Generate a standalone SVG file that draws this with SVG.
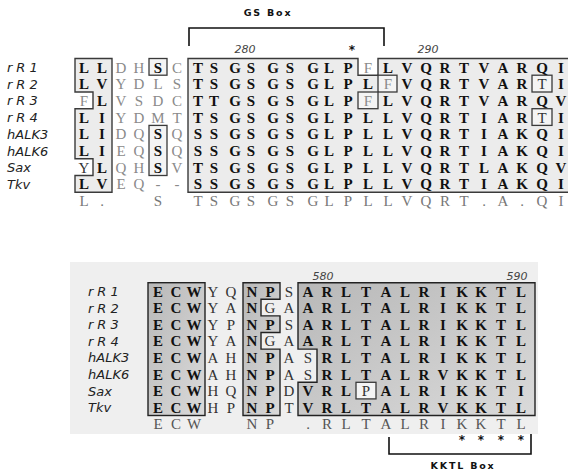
<svg xmlns="http://www.w3.org/2000/svg" width="568" height="472" viewBox="0 0 568 472">
<style>
text{font-family:"Liberation Serif","Times New Roman",serif;font-size:15px;text-anchor:middle}
.b{font-weight:bold;fill:#111}
.l{fill:#8a8a8a}
.m{fill:#333}
.c{fill:#777}
.c2{fill:#555}
.lab{font-family:"DejaVu Sans","Liberation Sans",sans-serif;font-style:italic;font-size:13px;text-anchor:start;fill:#222}
.ls{letter-spacing:4px}
.num{font-family:"DejaVu Sans","Liberation Sans",sans-serif;font-style:italic;font-size:11px;fill:#444}
.ttl{font-family:"DejaVu Sans","Liberation Sans",sans-serif;font-weight:bold;font-size:9.5px;letter-spacing:1.8px;fill:#111}
.star{font-family:"DejaVu Sans","Liberation Sans",sans-serif;font-weight:bold;font-size:12px;fill:#111}
.box{stroke:#3a3a3a;stroke-width:1.4;fill:#ececec}
.sbox{stroke:#3a3a3a;stroke-width:1.3;fill:#f4f4f4}
.dbox{stroke:#222;stroke-width:1.4;fill:url(#g)}
.brk{stroke:#111;stroke-width:1.6;fill:none}
</style>
<defs>
<linearGradient id="g" x1="0" y1="0" x2="1" y2="1">
<stop offset="0" stop-color="#b8b8b8"/>
<stop offset="1" stop-color="#dadada"/>
</linearGradient>
</defs>
<rect width="568" height="472" fill="#fff"/>

<g id="connectors">
<path class="brk" d="M189,46 V28 H384 V46"/>
<path class="brk" d="M389,437 V454 H531 V432"/>
</g>

<g id="gs-box-title">
<text class="ttl" x="268" y="16">GS Box</text>
</g>
<g id="kktl-box-title">
<text class="ttl" x="463" y="469">KKTL Box</text>
</g>

<g id="top-panel">
<path class="box" d="M75,58.5 H112 V192.2 H75 V175.5 H93 V158.8 H75 V108.7 H93 V92 H75 Z"/>
<rect class="sbox" x="149" y="58.5" width="18" height="16.7"/>
<rect class="sbox" x="149" y="125.4" width="18" height="50.1"/>
<path class="box" d="M188,58.5 H358 V75.2 H378 V58.5 H570 V192.2 H188 Z"/>
<rect class="sbox" x="378" y="75.2" width="19" height="16.8" fill="#fafafa"/>
<rect class="sbox" x="358" y="92" width="20" height="16.7" fill="#fafafa"/>
<rect class="sbox" x="532" y="75.2" width="20" height="16.8" fill="#fafafa"/>
<rect class="sbox" x="532" y="108.7" width="20" height="16.7" fill="#fafafa"/>
<text class="num" x="245" y="53">280</text>
<text class="num" x="428" y="53">290</text>
<text class="star" x="352" y="54">*</text>
</g>

<g id="top-labels">
<text class="lab ls" x="7" y="72">rR1</text>
<text class="lab ls" x="7" y="88.7">rR2</text>
<text class="lab ls" x="7" y="105.4">rR3</text>
<text class="lab ls" x="7" y="122.1">rR4</text>
<text class="lab" x="7" y="138.8">hALK3</text>
<text class="lab" x="7" y="155.5">hALK6</text>
<text class="lab" x="7" y="172.2">Sax</text>
<text class="lab" x="7" y="188.9">Tkv</text>
</g>

<g id="top-rows">
<text y="72.5"><tspan class="b" x="84 102">LL</tspan><tspan class="l" x="121 139">DH</tspan><tspan class="b" x="158">S</tspan><tspan class="l" x="177">C</tspan><tspan class="b" x="198 214 235 251 273 290 313 329 348">TSGSGSGLP</tspan><tspan class="l" x="368">F</tspan><tspan class="b" x="388 407 426 445 464 484 503 522 542 561">LVQRTVARQI</tspan></text>
<text y="89.2"><tspan class="b" x="84 102">LV</tspan><tspan class="l" x="121 139 158 177">YDLS</tspan><tspan class="b" x="198 214 235 251 273 290 313 329 348 368">TSGSGSGLPL</tspan><tspan class="l" x="388">F</tspan><tspan class="b" x="407 426 445 464 484 503 522">VQRTVAR</tspan><tspan class="m" x="542">T</tspan><tspan class="b" x="561">I</tspan></text>
<text y="105.9"><tspan class="l" x="84">F</tspan><tspan class="b" x="102">L</tspan><tspan class="l" x="121 139 158 177">VSDC</tspan><tspan class="b" x="198 214 235 251 273 290 313 329 348">TTGSGSGLP</tspan><tspan class="l" x="368">F</tspan><tspan class="b" x="388 407 426 445 464 484 503 522 542 561">LVQRTVARQV</tspan></text>
<text y="122.6"><tspan class="b" x="84 102">LI</tspan><tspan class="l" x="121 139 158 177">YDMT</tspan><tspan class="b" x="198 214 235 251 273 290 313 329 348 368 388 407 426 445 464 484 503 522">TSGSGSGLPLLVQRTIAR</tspan><tspan class="m" x="542">T</tspan><tspan class="b" x="561">I</tspan></text>
<text y="139.3"><tspan class="b" x="84 102">LI</tspan><tspan class="l" x="121 139">DQ</tspan><tspan class="b" x="158">S</tspan><tspan class="l" x="177">Q</tspan><tspan class="b" x="198 214 235 251 273 290 313 329 348 368 388 407 426 445 464 484 503 522 542 561">SSGSGSGLPLLVQRTIAKQI</tspan></text>
<text y="156"><tspan class="b" x="84 102">LI</tspan><tspan class="l" x="121 139">EQ</tspan><tspan class="b" x="158">S</tspan><tspan class="l" x="177">Q</tspan><tspan class="b" x="198 214 235 251 273 290 313 329 348 368 388 407 426 445 464 484 503 522 542 561">SSGSGSGLPLLVQRTIAKQI</tspan></text>
<text y="172.7"><tspan class="m" x="84">Y</tspan><tspan class="b" x="102">L</tspan><tspan class="l" x="121 139">QH</tspan><tspan class="b" x="158">S</tspan><tspan class="l" x="177">V</tspan><tspan class="b" x="198 214 235 251 273 290 313 329 348 368 388 407 426 445 464 484 503 522 542 561">TSGSGSGLPLLVQRTLAKQV</tspan></text>
<text y="189.4"><tspan class="b" x="84 102">LV</tspan><tspan class="l" x="121 139 158 177">EQ--</tspan><tspan class="b" x="198 214 235 251 273 290 313 329 348 368 388 407 426 445 464 484 503 522 542 561">SSGSGSGLPLLVQRTIAKQI</tspan></text>
<text y="206" class="c"><tspan x="84 102 158">L.S</tspan><tspan x="198 214 235 251 273 290 313 329 348 368 388 407 426 445 464 484 503 522 542 561">TSGSGSGLPLLVQRT.A.QI</tspan></text>
</g>

<g id="bottom-panel">
<rect x="70" y="262" width="468" height="172" fill="#efefef"/>
<rect class="dbox" x="148" y="282.7" width="57" height="132.8"/>
<path class="dbox" d="M243,282.7 H280 V299.3 H261 V315.9 H280 V332.5 H261 V349.1 H280 V415.5 H243 Z"/>
<path class="dbox" d="M298,282.7 H535 V415.5 H298 V382.3 H317 V349.1 H298 Z"/>
<rect class="sbox" x="356" y="382.3" width="20" height="16.6" fill="#f2f2f2"/>
<text class="num" x="323" y="280">580</text>
<text class="num" x="517" y="280">590</text>
</g>

<g id="bottom-labels">
<text class="lab ls" x="88" y="296">rR1</text>
<text class="lab ls" x="88" y="312.6">rR2</text>
<text class="lab ls" x="88" y="329.2">rR3</text>
<text class="lab ls" x="88" y="345.8">rR4</text>
<text class="lab" x="88" y="362.4">hALK3</text>
<text class="lab" x="88" y="379">hALK6</text>
<text class="lab" x="88" y="395.6">Sax</text>
<text class="lab" x="88" y="412.2">Tkv</text>
</g>

<g id="bottom-rows">
<text y="296.5"><tspan class="b" x="158 176 194">ECW</tspan><tspan class="m" x="213 231">YQ</tspan><tspan class="b" x="252 270">NP</tspan><tspan class="m" x="289">S</tspan><tspan class="b" x="308 327 346 366 386 405 424 443 462 481 501 521">ARLTALRIKKTL</tspan></text>
<text y="313.1"><tspan class="b" x="158 176 194">ECW</tspan><tspan class="m" x="213 231">YA</tspan><tspan class="b" x="252">N</tspan><tspan class="m" x="270 289">GA</tspan><tspan class="b" x="308 327 346 366 386 405 424 443 462 481 501 521">ARLTALRIKKTL</tspan></text>
<text y="329.7"><tspan class="b" x="158 176 194">ECW</tspan><tspan class="m" x="213 231">YP</tspan><tspan class="b" x="252 270">NP</tspan><tspan class="m" x="289">S</tspan><tspan class="b" x="308 327 346 366 386 405 424 443 462 481 501 521">ARLTALRIKKTL</tspan></text>
<text y="346.3"><tspan class="b" x="158 176 194">ECW</tspan><tspan class="m" x="213 231">YA</tspan><tspan class="b" x="252">N</tspan><tspan class="m" x="270 289">GA</tspan><tspan class="b" x="308 327 346 366 386 405 424 443 462 481 501 521">ARLTALRIKKTL</tspan></text>
<text y="362.9"><tspan class="b" x="158 176 194">ECW</tspan><tspan class="m" x="213 231">AH</tspan><tspan class="b" x="252 270">NP</tspan><tspan class="m" x="289 308">AS</tspan><tspan class="b" x="327 346 366 386 405 424 443 462 481 501 521">RLTALRIKKTL</tspan></text>
<text y="379.5"><tspan class="b" x="158 176 194">ECW</tspan><tspan class="m" x="213 231">AH</tspan><tspan class="b" x="252 270">NP</tspan><tspan class="m" x="289 308">AS</tspan><tspan class="b" x="327 346 366 386 405 424 443 462 481 501 521">RLTALRVKKTL</tspan></text>
<text y="396.1"><tspan class="b" x="158 176 194">ECW</tspan><tspan class="m" x="213 231">HQ</tspan><tspan class="b" x="252 270">NP</tspan><tspan class="m" x="289">D</tspan><tspan class="b" x="308 327 346">VRL</tspan><tspan class="m" x="366">P</tspan><tspan class="b" x="386 405 424 443 462 481 501 521">ALRIKKTI</tspan></text>
<text y="412.7"><tspan class="b" x="158 176 194">ECW</tspan><tspan class="m" x="213 231">HP</tspan><tspan class="b" x="252 270">NP</tspan><tspan class="m" x="289">T</tspan><tspan class="b" x="308 327 346 366 386 405 424 443 462 481 501 521">VRLTALRVKKTL</tspan></text>
<text y="429" class="c2"><tspan x="158 176 194">ECW</tspan><tspan x="252 270">NP</tspan><tspan x="308 327 346 366 386 405 424 443 462 481 501 521">.RLTALRIKKTL</tspan></text>
<text class="star" y="444" x="462 481 501 521">****</text>
</g>
</svg>
